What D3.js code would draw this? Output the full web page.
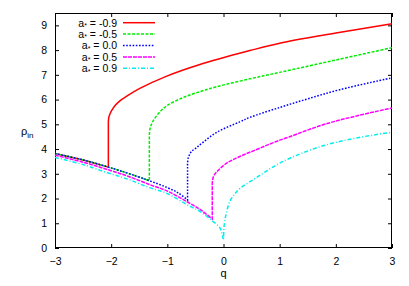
<!DOCTYPE html>
<html><head><meta charset="utf-8">
<script src="https://cdn.jsdelivr.net/npm/d3@7"></script>
<style>
body{margin:0;background:#fff}
svg{display:block}
text{font-family:"Liberation Sans",Arial,sans-serif;fill:#000}
</style>
</head><body>
<svg id="c" width="409" height="286"></svg>
<script>
// ---- data ----
const spinLabels = ["-0.9", "-0.5", "0.0", "0.5", "0.9"];
const xTickValues = [-3, -2, -1, 0, 1, 2, 3];
const yTickValues = [0, 1, 2, 3, 4, 5, 6, 7, 8, 9];

// lower branches (q, rho_in)
const lowerQ_m09 = [-3, -2.5, -2.05];
const lowerR_m09 = [3.82, 3.56, 3.27];
const lowerQ_m05 = [-3, -2.5, -2.05, -1.7, -1.32];
const lowerR_m05 = [3.82, 3.56, 3.27, 3.02, 2.72];
const lowerQ_00 = [-3, -2.5, -2.05, -1.7, -1.32, -1.0, -0.8, -0.64];
const lowerR_00 = [3.82, 3.56, 3.27, 3.02, 2.72, 2.44, 2.22, 1.94];
const lowerQ_p05 = [-3, -2.5, -2.05, -1.7, -1.32, -1.0, -0.64, -0.4, -0.2];
const lowerR_p05 = [3.75, 3.47, 3.16, 2.9, 2.57, 2.3, 1.86, 1.53, 1.17];
const lowerQ_p09 = [-3, -2.5, -2.05, -1.7, -1.32, -1.0, -0.64, -0.42, -0.2, -0.06, -0.02, 0];
const lowerR_p09 = [3.66, 3.37, 3.03, 2.78, 2.44, 2.2, 1.74, 1.48, 1.1, 0.8, 0.52, 0.32];

// upper branches (q, rho_in)
const upperQ_m09 = [-2.05, -2.04, -2.02, -1.99, -1.93, -1.85, -1.72, -1.49, -1.01, -0.42, 0.47, 1, 2, 3];
const upperR_m09 = [5.12, 5.3, 5.43, 5.56, 5.76, 5.94, 6.14, 6.45, 6.95, 7.42, 7.98, 8.28, 8.69, 9.07];
const upperQ_m05 = [-1.32, -1.31, -1.29, -1.25, -1.15, -1.01, -0.72, -0.42, -0.12, 0.47, 1, 2, 3];
const upperR_m05 = [4.6, 4.8, 4.96, 5.15, 5.46, 5.75, 6.08, 6.32, 6.52, 6.84, 7.1, 7.6, 8.1];
const upperQ_00 = [-0.64, -0.63, -0.61, -0.57, -0.48, -0.36, -0.12, 0.29, 0.47, 1, 1.5, 2.07, 3];
const upperR_00 = [3.44, 3.62, 3.75, 3.9, 4.06, 4.28, 4.68, 5.1, 5.28, 5.68, 6.03, 6.4, 6.88];
const upperQ_p05 = [-0.2, -0.19, -0.17, -0.12, 0.05, 0.29, 0.59, 0.885, 1.18, 1.77, 2.37, 3];
const upperR_p05 = [2.62, 2.8, 2.93, 3.08, 3.42, 3.7, 3.98, 4.26, 4.5, 4.98, 5.34, 5.66];
const upperQ_p09 = [0, 0.008, 0.025, 0.06, 0.115, 0.2, 0.29, 0.59, 0.885, 1.18, 1.77, 2.37, 3];
const upperR_p09 = [0.32, 0.8, 1.13, 1.5, 1.9, 2.18, 2.4, 2.85, 3.28, 3.63, 4.13, 4.45, 4.68];

const lowerQs = [lowerQ_m09, lowerQ_m05, lowerQ_00, lowerQ_p05, lowerQ_p09];
const lowerRs = [lowerR_m09, lowerR_m05, lowerR_00, lowerR_p05, lowerR_p09];
const upperQs = [upperQ_m09, upperQ_m05, upperQ_00, upperQ_p05, upperQ_p09];
const upperRs = [upperR_m09, upperR_m05, upperR_00, upperR_p05, upperR_p09];

// ---- styles ----
const colors = ["#ff0000", "#00ee00", "#0000ff", "#ff00ff", "#00eeee"];
const dashes = [null, "3,1.5", "1.6,1.6", "4,1", "4,2,1,2"];

// ---- layout ----
const L = 55, R = 392, T = 13, B = 248;
const x = d3.scaleLinear().domain([-3, 3]).range([L, R]);
const y = d3.scaleLinear().domain([0, 9.5]).range([B, T]);
const svg = d3.select("#c");
const FONT = '"Liberation Sans",Arial,sans-serif';

// axes with inward ticks (mirrored)
const tl = 4;
svg.append("g").attr("transform", `translate(0,${B})`)
  .call(d3.axisBottom(x).tickValues(xTickValues).tickSize(-tl).tickPadding(9).tickFormat(d3.format("d")))
  .call(g => g.select(".domain").remove())
  .call(g => g.selectAll(".tick text").attr("dy", null).attr("y", 16.5));
svg.append("g").attr("transform", `translate(0,${T})`)
  .call(d3.axisTop(x).tickValues(xTickValues).tickSize(-tl).tickFormat(""))
  .call(g => g.select(".domain").remove());
svg.append("g").attr("transform", `translate(${L},0)`)
  .call(d3.axisLeft(y).tickValues(yTickValues).tickSize(-tl).tickPadding(8).tickFormat(d3.format("d")))
  .call(g => g.select(".domain").remove());
svg.append("g").attr("transform", `translate(${R},0)`)
  .call(d3.axisRight(y).tickValues(yTickValues).tickSize(-tl).tickFormat(""))
  .call(g => g.select(".domain").remove());
svg.selectAll(".tick line").attr("stroke", "#000").attr("stroke-width", 1);
svg.selectAll(".tick text").attr("font-size", 10.5).attr("font-family", FONT).attr("fill", "#000");

svg.append("rect").attr("x", L + 0.5).attr("y", T + 0.5).attr("width", R - L - 1).attr("height", B - T - 1)
  .attr("fill", "none").attr("stroke", "#000").attr("stroke-width", 1);

// axis labels
svg.append("text").attr("x", (L + R) / 2).attr("y", 276.5).attr("text-anchor", "middle").attr("font-size", 11).text("q");
const yl = svg.append("text").attr("x", 21).attr("y", 135).attr("font-size", 11);
yl.append("tspan").text("ρ");
yl.append("tspan").attr("font-size", 8).attr("dy", 3).text("in");

// curves
const line = d3.line().x(d => x(d[0])).y(d => y(d[1])).curve(d3.curveCatmullRom.alpha(0.5));
const plotG = svg.append("g");
for (let i = 0; i < 5; i++) {
  const lo = lowerQs[i].map((q, k) => [q, lowerRs[i][k]]);
  const up = upperQs[i].map((q, k) => [q, upperRs[i][k]]);
  const d = line(lo) + line(up).replace(/^M/, "L");
  const p = plotG.append("path").attr("d", d).attr("fill", "none")
    .attr("stroke", colors[i]).attr("stroke-width", 1.5);
  if (dashes[i]) p.attr("stroke-dasharray", dashes[i]);
}

// legend
const legG = svg.append("g");
spinLabels.forEach((lab, i) => {
  const yy = 22.7 + 11.4 * i;
  const t = legG.append("text").attr("x", 117).attr("y", yy + 3.8).attr("text-anchor", "end").attr("font-size", 10.5);
  t.append("tspan").text("a");
  t.append("tspan").attr("font-size", 7).attr("dy", 1.5).text("*");
  t.append("tspan").attr("dy", -1.5).text(" = " + lab);
  const ln = legG.append("line").attr("x1", 123).attr("x2", 155).attr("y1", yy).attr("y2", yy)
    .attr("stroke", colors[i]).attr("stroke-width", 1.5);
  if (dashes[i]) ln.attr("stroke-dasharray", dashes[i]);
});
</script>
</body></html>
